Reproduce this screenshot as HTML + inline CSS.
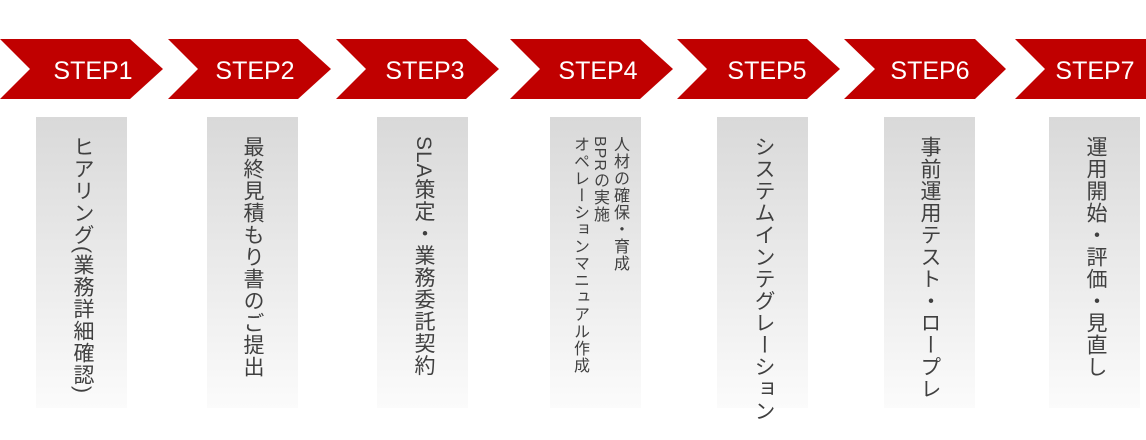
<!DOCTYPE html>
<html><head><meta charset="utf-8"><style>
body{margin:0;width:1146px;height:440px;background:#fff;overflow:hidden;position:relative;font-family:"Liberation Sans","Noto Sans CJK JP",sans-serif}
.b{position:absolute;top:117px;width:91px;height:291px;background:linear-gradient(#d9d9d9,#fbfbfb)}
.t{position:absolute;top:136px;writing-mode:vertical-rl;font-size:21px;letter-spacing:1px;color:#404040;line-height:22px;white-space:nowrap;transform:translateX(-50%)}
.s{font-size:16px;letter-spacing:1px;line-height:20px;top:136px}
</style></head><body>
<svg width="1146" height="440" style="position:absolute;left:0;top:0">
<g fill="#c00000">
<polygon points="0,39 130,39 163,69 130,99 0,99 30,69"/>
<polygon points="168,39 298,39 331,69 298,99 168,99 198,69"/>
<polygon points="336,39 466,39 499,69 466,99 336,99 366,69"/>
<polygon points="510,39 640,39 673,69 640,99 510,99 540,69"/>
<polygon points="677,39 807,39 840,69 807,99 677,99 707,69"/>
<polygon points="844,39 975,39 1006,69 975,99 844,99 875,69"/>
<polygon points="1015,39 1146,39 1146,99 1015,99 1045,69"/>
</g>
<g fill="#fff" font-family="Liberation Sans, sans-serif" font-size="25" text-anchor="middle">
<text x="93" y="79">STEP1</text>
<text x="255" y="79">STEP2</text>
<text x="425" y="79">STEP3</text>
<text x="598" y="79">STEP4</text>
<text x="767" y="79">STEP5</text>
<text x="930" y="79">STEP6</text>
<text x="1095" y="79">STEP7</text>
</g></svg>
<div class="b" style="left:36px"></div><div class="t" style="left:82px">ヒアリング(業務詳細確認)</div>
<div class="b" style="left:207px"></div><div class="t" style="left:252px">最終見積もり書のご提出</div>
<div class="b" style="left:377px"></div><div class="t" style="left:423px">SLA策定・業務委託契約</div>
<div class="b" style="left:550px"></div><div class="t s" style="left:599px">人材の確保・育成<br>BPRの実施<br>オペレーションマニュアル作成</div>
<div class="b" style="left:717px"></div><div class="t" style="left:763px">システムインテグレーション</div>
<div class="b" style="left:884px"></div><div class="t" style="left:929px">事前運用テスト・ロープレ</div>
<div class="b" style="left:1049px"></div><div class="t" style="left:1095px">運用開始・評価・見直し</div>
</body></html>
